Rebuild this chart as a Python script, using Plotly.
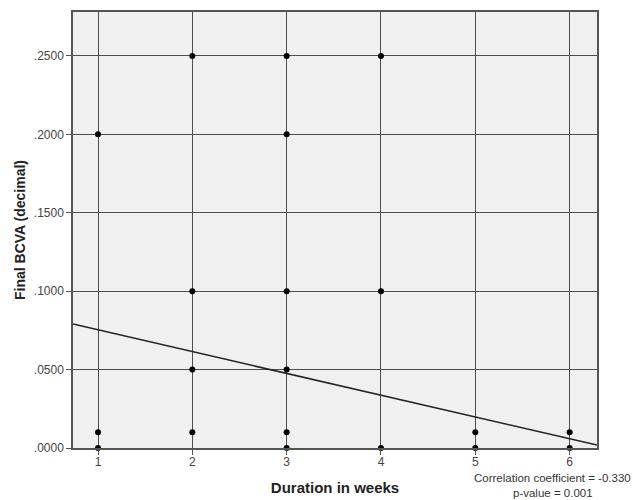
import plotly.graph_objects as go

# Data
x_weeks = [1, 1, 1, 2, 2, 2, 2, 3, 3, 3, 3, 3, 3, 4, 4, 4, 5, 5, 6, 6]
y_bcva = [0.20, 0.01, 0.00, 0.25, 0.10, 0.05, 0.01, 0.25, 0.20, 0.10, 0.05, 0.01, 0.00,
          0.25, 0.10, 0.00, 0.01, 0.00, 0.01, 0.00]
fit_intercept = 0.0892
fit_slope = -0.01388
x_range = [0.735, 6.29]
y_range = [0.0, 0.278]
x_tickvals = [1, 2, 3, 4, 5, 6]
y_tickvals = [0.0, 0.05, 0.10, 0.15, 0.20, 0.25]
y_ticktext = [".0000", ".0500", ".1000", ".1500", ".2000", ".2500"]
stats_lines = ["Correlation coefficient = -0.330", "p-value = 0.001"]

fit_x = x_range
fit_y = [fit_intercept + fit_slope * v for v in fit_x]

fig = go.Figure()
fig.add_trace(go.Scatter(x=fit_x, y=fit_y, mode="lines",
                         line=dict(color="#222222", width=1.5), showlegend=False,
                         cliponaxis=True))
fig.add_trace(go.Scatter(x=x_weeks, y=y_bcva, mode="markers",
                         marker=dict(color="black", size=6), showlegend=False,
                         cliponaxis=False))

font = dict(family="Liberation Sans, Arial, sans-serif", color="#333333")
fig.update_layout(
    width=639, height=500,
    margin=dict(l=73, r=42, t=12, b=52, autoexpand=False),
    paper_bgcolor="white", plot_bgcolor="#f0f0f0",
    font=dict(size=12, **font),
    showlegend=False,
)
fig.update_xaxes(range=x_range, tickvals=x_tickvals, showgrid=True, automargin=False,
                 gridcolor="#4d4d4d", gridwidth=1.4,
                 showline=True, linecolor="#555555", linewidth=1.5, mirror=True,
                 ticks="outside", ticklen=5, tickcolor="#555555", ticklabelstandoff=-3,
                 tickfont=dict(size=12, color="#444444"), zeroline=False,
                 title=dict(text="<b>Duration in weeks</b>", font=dict(size=15, color="#222222"), standoff=14))
fig.update_yaxes(range=y_range, tickvals=y_tickvals, ticktext=y_ticktext, showgrid=True, automargin=False,
                 gridcolor="#4d4d4d", gridwidth=1.4,
                 showline=True, linecolor="#555555", linewidth=1.5, mirror=True,
                 ticks="outside", ticklen=5, tickcolor="#555555",
                 tickfont=dict(size=12, color="#444444"), zeroline=False,
                 title=dict(text="<b>Final BCVA (decimal)</b>", font=dict(size=14, color="#222222"), standoff=5))

for txt, yy in zip(stats_lines, [-0.0688, -0.1032]):
    fig.add_annotation(text=txt, xref="paper", yref="paper", x=0.916, y=yy,
                       xanchor="center", yanchor="middle", showarrow=False, borderpad=0,
                       font=dict(size=11.5, color="#333333"))

fig.write_html("out.html", config={"displayModeBar": False},
               post_script="document.body.style.margin='0';")
